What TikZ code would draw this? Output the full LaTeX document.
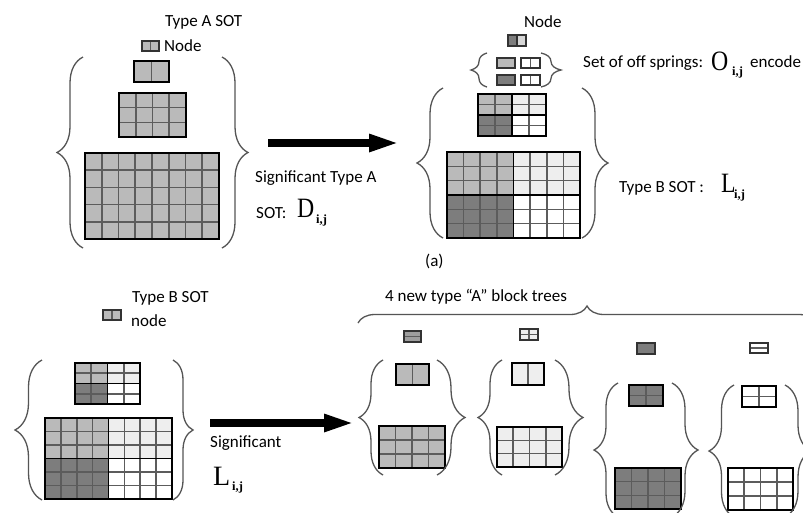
\documentclass[tikz,border=0pt]{standalone}
\usepackage{fontspec}
\setmainfont{Carlito}
\newfontfamily\serifm{Liberation Serif}
\usetikzlibrary{arrows.meta,decorations.pathreplacing,fit}
\definecolor{cA}{RGB}{186,186,186}
\definecolor{cL}{RGB}{238,238,238}
\definecolor{cD}{RGB}{125,125,125}
\definecolor{glc}{RGB}{92,92,92}
\definecolor{bc}{RGB}{85,85,85}
\newcommand\gcells[7]{%
  \fill[#7] (#1,#2) rectangle (#3,#4);
  \foreach \k in {1,...,#5}{\pgfmathsetmacro\gx{#1+(#3-#1)*\k/#5}\draw[gline] (\gx,#2) -- (\gx,#4);}
  \foreach \k in {1,...,#6}{\pgfmathsetmacro\gy{#2+(#4-#2)*\k/#6}\draw[gline] (#1,\gy) -- (#3,\gy);}
}
\newcommand\grd[8]{\gcells{#2}{#3}{#4}{#5}{#6}{#7}{#8}\node[gbox,fit={(#2,#3) (#4,#5)}] (#1) {};}
\newcommand\icn[8]{\gcells{#2}{#3}{#4}{#5}{#6}{#7}{#8}\node[ibox,fit={(#2,#3) (#4,#5)}] (#1) {};}
\newcommand\grdB[7]{%
  \pgfmathsetmacro\bmx{(#2+#4)/2}\pgfmathsetmacro\bmy{(#3+#5)/2}%
  \gcells{#2}{#3}{\bmx}{\bmy}{#6}{#7}{cA}
  \gcells{\bmx}{#3}{#4}{\bmy}{#6}{#7}{cL}
  \gcells{#2}{\bmy}{\bmx}{#5}{#6}{#7}{cD}
  \gcells{\bmx}{\bmy}{#4}{#5}{#6}{#7}{white}
  \draw[gmid] (\bmx,#3) -- (\bmx,#5) (#2,\bmy) -- (#4,\bmy);
  \node[gbox,fit={(#2,#3) (#4,#5)}] (#1) {};}
\begin{document}
\begin{tikzpicture}[x=1pt,y=-1pt,
  gline/.style={draw=glc,line width=1.6pt},
  gmid/.style={draw=black,line width=1.4pt},
  gbox/.style={draw=black,line width=2pt,inner sep=0pt},
  ibox/.style={draw=black!80,line width=1.2pt,inner sep=0pt},
  brc/.style={draw=bc,line width=1.3pt,decorate,decoration={brace,amplitude=#1pt}},
  tx/.style={font=\fontsize{17}{20}\selectfont,inner sep=0pt,anchor=base west},
  mx/.style={font=\serifm\fontsize{28}{30}\selectfont,inner sep=0pt,anchor=base west},
  sb/.style={font=\serifm\bfseries\fontsize{12.5}{13}\selectfont,inner sep=0pt,anchor=base west},
  bigarr/.style={line width=8pt,-{Triangle[length=31pt,width=16pt]}}]
\useasboundingbox[fill=white] (0,0) rectangle (803,512);

% ---------- top left: type A SOT ----------
\node[tx] (tA) at (165,26) {Type A SOT};
\icn{iA}{142}{41}{159}{51}{2}{1}{cA}
\node[tx] (nA) at (164,51) {Node};
\grd{tlS}{134}{61}{169}{82}{2}{1}{cA}
\grd{tlM}{119}{93}{186}{137}{4}{3}{cA}
\grd{tlB}{85}{153}{219}{239}{8}{5}{cA}
\draw[brc=26] (83,248) -- (83,57);
\draw[brc=26] (222,57) -- (222,248);

% ---------- top arrow ----------
\coordinate (a1s) at (268,143);
\coordinate (a1e) at (400,143);
\draw[bigarr] (a1s) -- (a1e);
\node[tx] (sig1) at (255,182) {Significant Type A};
\node[tx] (sot1) at (256,218) {SOT:};
\node[mx] (D) at (297,217) {\scalebox{0.85}[1]{D}};
\node[sb] (Dij) at (316,223) {i,j};

% ---------- top right: type B SOT ----------
\node[tx] (nB) at (524,27) {Node};
\fill[cA!60!white] (508,35) rectangle (526,46);
\fill[cD] (508,35) rectangle (517,46);
\draw[ibox] (508,35) rectangle (526,46) (517,35) -- (517,46);
\node[inner sep=0pt,fit={(508,35) (526,46)}] (iB) {};
\icn{o1}{497}{58}{515}{68}{1}{1}{cA}
\icn{o2}{521}{58}{540}{68}{2}{1}{white}
\icn{o3}{497}{75}{515}{85}{1}{1}{cD}
\icn{o4}{521}{75}{540}{85}{2}{1}{white}
\draw[brc=16] (487,87) -- (487,53);
\draw[brc=20] (541,53) -- (541,87);
\node[tx] (off) at (583,67) {Set of off springs:};
\node[mx] (O) at (711,70) {\scalebox{0.85}[1]{O}};
\node[sb] (Oij) at (732,75) {i,j};
\node[tx] (enc) at (750,67) {encode};
\grdB{trS}{478}{94}{546}{136}{2}{2}
\grdB{trB}{447}{152}{580}{238}{4}{3}
\draw[brc=26] (443,238) -- (443,88);
\draw[brc=26] (582,88) -- (582,238);
\node[tx] (tB) at (619,192) {Type B SOT :};
\node[mx] (L1) at (721,192) {\scalebox{0.85}[1]{L}};
\node[sb] (L1ij) at (734,198) {i,j};

\node[tx] (cap) at (425,266) {(a)};

% ---------- bottom left: type B SOT ----------
\node[tx] (tB2) at (132,302) {Type B SOT};
\icn{iB2}{103}{310}{121}{320}{2}{1}{cA}
\node[tx] (nB2) at (131,326) {node};
\grdB{blS}{75}{363}{140}{404}{2}{2}
\grdB{blB}{45}{418}{172}{499}{4}{3}
\draw[brc=27] (42,500) -- (42,360);
\draw[brc=20] (173,360) -- (173,500);

% ---------- bottom arrow ----------
\coordinate (a2s) at (210,423);
\coordinate (a2e) at (355,423);
\draw[bigarr] (a2s) -- (a2e);
\node[tx] (sig2) at (210,447) {Significant};
\node[mx] (L2) at (213,485) {L};
\node[sb] (L2ij) at (232,490) {i,j};

% ---------- bottom right: 4 new type A trees ----------
\node[tx] (four) at (385,301) {4 new type “A” block trees};
\draw[brc=17] (358,323) -- (816,323);

\icn{n1}{404}{331}{421}{342}{1}{2}{cA!85!black}
\grd{s1S}{396}{364}{429}{385}{2}{1}{cA}
\grd{s1B}{379}{426}{445}{468}{4}{3}{cA}
\draw[brc=24] (383,475) -- (383,360);
\draw[brc=28] (437,360) -- (437,475);

\icn{n2}{520}{329}{538}{340}{2}{2}{cL}
\grd{s2S}{512}{363}{544}{385}{2}{1}{cL}
\grd{s2B}{497}{427}{562}{467}{4}{3}{cL}
\draw[brc=24] (502,475) -- (502,360);
\draw[brc=28] (555,360) -- (555,475);

\icn{n3}{637}{343}{655}{354}{1}{1}{cD}
\grd{s3S}{629}{385}{663}{406}{2}{2}{cD}
\grd{s3B}{615}{468}{681}{509}{4}{3}{cD}
\draw[brc=24] (618,517) -- (618,383);
\draw[brc=26] (672,383) -- (672,517);

\icn{n4}{750}{343}{768}{353}{1}{2}{white}
\grd{s4S}{742}{386}{776}{407}{2}{2}{white}
\grd{s4B}{728}{468}{793}{510}{4}{3}{white}
\draw[brc=25] (734,517) -- (734,385);
\draw[brc=26] (785,385) -- (785,517);
\end{tikzpicture}
\end{document}
